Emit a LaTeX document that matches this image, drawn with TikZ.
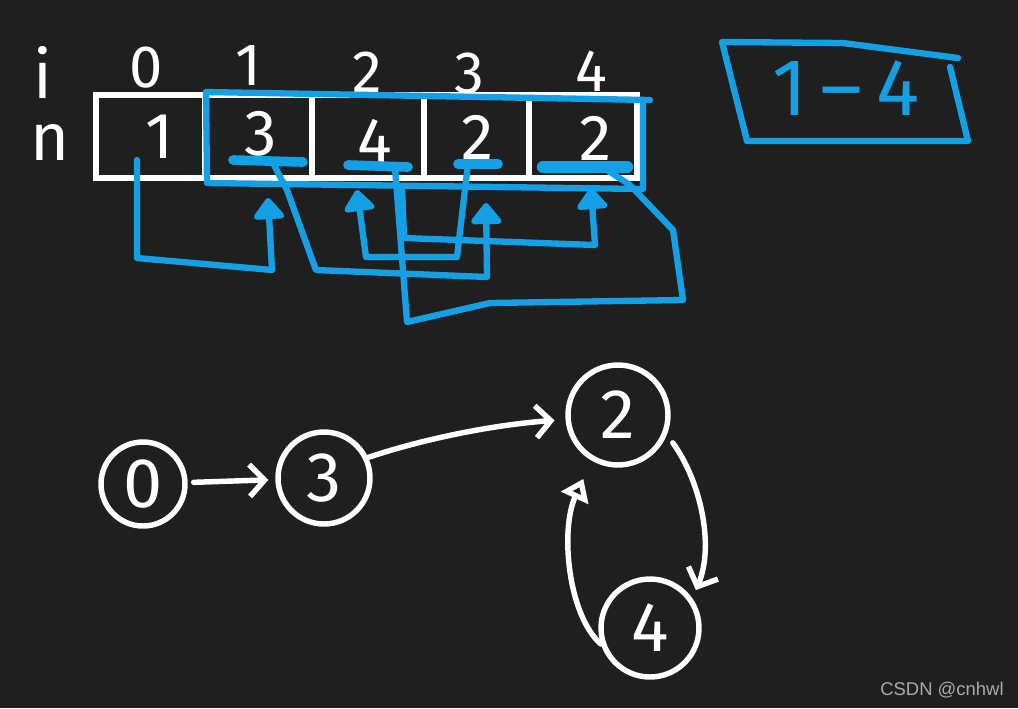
\documentclass[tikz,border=0pt]{standalone}
\usepackage{fontspec}
\setmainfont{Fira Sans}
\newfontfamily\wmfont{Liberation Sans}
\usetikzlibrary{arrows.meta}
\definecolor{bgc}{RGB}{31,31,31}
\definecolor{hblue}{RGB}{20,160,228}
\definecolor{wmgray}{RGB}{170,170,170}
\tikzset{
 wline/.style={draw=white, line width=3.1pt, line cap=round, line join=round},
 bline/.style={draw=hblue, line width=3.6pt, line cap=round, line join=round},
 btip/.style={-{Triangle[length=0.46cm,width=0.7cm,round]}},
 ulin/.style={draw=hblue, line width=5.5pt, line cap=round},
 cellbox/.style={draw=white, line width=3.1pt, minimum height=1.66cm, inner sep=0pt},
 wtext/.style={text=white, inner sep=0pt},
 idxlab/.style={wtext, font=\fontsize{34}{38}\selectfont},
 vallab/.style={wtext, font=\fontsize{37}{40}\selectfont},
 rowlab/.style={wtext, font=\fontsize{38}{42}\selectfont},
 gnode/.style={circle, draw=white, line width=3.1pt, inner sep=0pt, text=white, font=\fontsize{40}{44}\selectfont},
 warrow/.style={wline, -{Straight Barb[length=0.3cm,width=0.64cm]}},
 wtri/.style={wline, -{Triangle[open,length=0.42cm,width=0.58cm]}},
}
\begin{document}
\begin{tikzpicture}[x=0.02cm, y=-0.02cm]
\fill[bgc] (0,0) rectangle (1018,708);
\useasboundingbox (0,0) rectangle (1018,708);

% row labels
\node[rowlab] (li) at (43,72) {i};
\node[rowlab] (ln) at (50,142) {n};

% index labels
\node[idxlab] (i0) at (146,68) {0};
\node[idxlab] (i1) at (248,66) {1};
\node[idxlab] (i2) at (367,72) {2};
\node[idxlab] (i3) at (469,74) {3};
\node[idxlab] (i4) at (591,71) {4};

% cells
\node[cellbox, minimum width=2.18cm] (c0) at (150.5,136.5) {};
\node[cellbox, minimum width=2.14cm] (c1) at (258.5,136.5) {};
\node[cellbox, minimum width=2.24cm] (c2) at (368,136.5) {};
\node[cellbox, minimum width=2.10cm] (c3) at (476.5,136.5) {};
\node[cellbox, minimum width=2.16cm] (c4) at (583,136.5) {};

% values
\node[vallab] (v0) at (160,137) {1};
\node[vallab] (v1) at (261,134) {3};
\node[vallab] (v2) at (375,141) {4};
\node[vallab] (v3) at (478,137) {2};
\node[vallab] (v4) at (596,138) {2};

% blue frame round indices 1-4
\draw[bline] (650,100) -- (206,92) -- (207,183) -- (643,189) -- (643,104);

% underlines
\draw[ulin] (233,160) -- (303,162);
\draw[ulin] (348,165) -- (408,167);
\draw[ulin] (458,164) -- (498,164);
\draw[ulin, line width=7pt] (543,167) -- (627,167);

% connector ends
\coordinate (s0) at (137,160);
\coordinate (s1) at (273,163);
\coordinate (s2a) at (402,186);
\coordinate (s2b) at (395,168);
\coordinate (s3) at (468,164);
\coordinate (s4) at (607,170);
\coordinate (t1) at (268,198);
\coordinate (t2) at (357,190);
\coordinate (t3) at (486,203);
\coordinate (t4) at (591,188);

% pointer connectors
\draw[bline, btip] (s0) -- (137,258) -- (272,270) -- (t1);
\draw[bline, btip] (s1) -- (287,190) -- (313,262) -- (316,270) -- (487,277) -- (t3);
\draw[bline, btip] (s3) -- (457,257) -- (366,257) -- (t2);
\draw[bline, btip] (s2a) -- (404,238) -- (595,245) -- (t4);
\draw[bline] (s4) -- (630,185) -- (673,230) -- (683,300) -- (490,303) -- (407,322) -- (s2b);

% range box
\draw[bline] (958,58) -- (843,43) -- (722,42) -- (747,141) -- (968,141) -- (950,67);
\node[text=hblue, inner sep=0pt, font=\fontsize{46}{50}\selectfont] (rng) at (846,88) {1\,–\,4};

% graph
\node[gnode, minimum size=1.68cm] (n0) at (143,484) {0};
\node[gnode, minimum size=1.84cm] (n3) at (324,478) {3};
\node[gnode, minimum size=2.0cm] (n2) at (618,415) {2};
\node[gnode, minimum size=1.96cm] (n4) at (650,628) {4};

\draw[warrow, shorten <=0.12cm, shorten >=0.14cm] (n0) -- (n3);
\draw[warrow, shorten >=0.22cm] (n3.25) .. controls (420,440) and (490,425) .. (n2.185);
\draw[warrow, shorten <=0.2cm, shorten >=0.18cm] (n2.-22) .. controls (700,480) and (715,545) .. (n4.35);
\draw[wtri, shorten >=0.4cm] (n4.198) .. controls (568,615) and (560,530) .. (n2.240);

% watermark
\node[text=wmgray, inner sep=0pt, font=\wmfont\fontsize{10.5}{12}\selectfont] (wm) at (942,690) {CSDN @cnhwl};
\end{tikzpicture}
\end{document}
